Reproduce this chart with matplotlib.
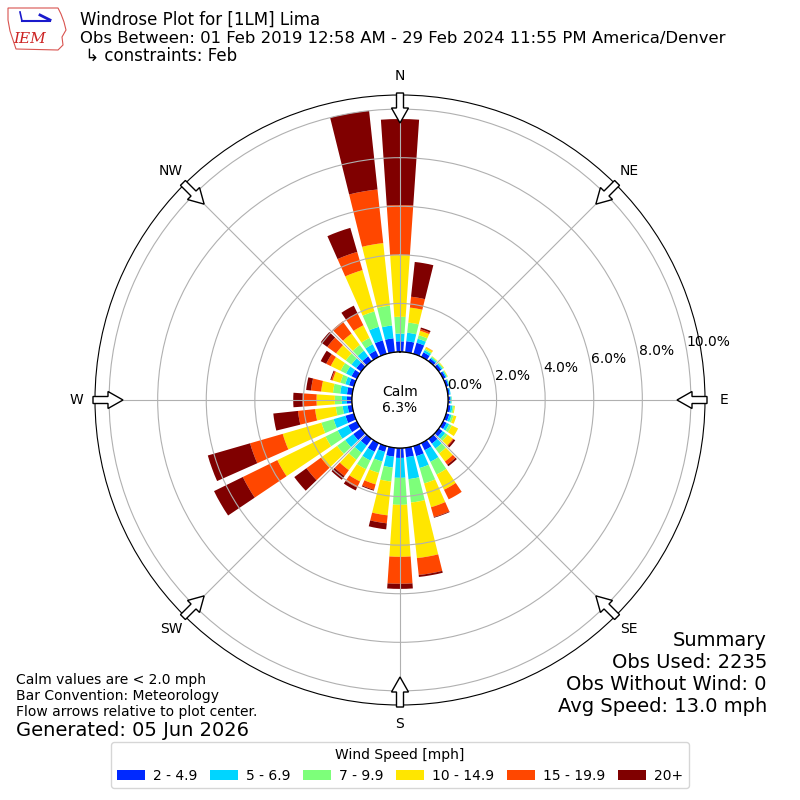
import numpy as np
import matplotlib
matplotlib.use("Agg")
import matplotlib.pyplot as plt
from matplotlib.patches import FancyArrow, Polygon

directions = np.arange(0, 360, 10)
speed_bins = ["2 - 4.9", "5 - 6.9", "7 - 9.9", "10 - 14.9", "15 - 19.9", "20+"]
compass = ["N", "NE", "E", "SE", "S", "SW", "W", "NW"]
rings = [0, 2, 4, 6, 8, 10]
calm_pct = 6.3

spd_2_5 = [0.44, 0.46, 0.48, 0.21, 0.14, 0.14, 0.12, 0.10, 0.08, 0.10, 0.12, 0.14,
           0.16, 0.19, 0.25, 0.33, 0.43, 0.39, 0.41, 0.37, 0.25, 0.40, 0.35, 0.41,
           0.40, 0.36, 0.19, 0.21, 0.22, 0.21, 0.25, 0.25, 0.25, 0.29, 0.58, 0.58]
spd_5_7 = [0.32, 0.35, 0.17, 0.10, 0.06, 0.06, 0.05, 0.04, 0.04, 0.04, 0.08, 0.10,
           0.12, 0.14, 0.25, 0.53, 0.51, 0.91, 0.82, 0.45, 0.41, 0.40, 0.36, 0.41,
           0.48, 0.51, 0.21, 0.21, 0.28, 0.16, 0.25, 0.25, 0.29, 0.29, 0.58, 0.53]
spd_7_10 = [0.69, 0.42, 0.15, 0.06, 0.04, 0.04, 0.03, 0.02, 0.00, 0.02, 0.06, 0.08,
            0.12, 0.12, 0.25, 0.58, 0.66, 0.97, 1.11, 0.58, 0.49, 0.40, 0.36, 0.41,
            0.56, 0.52, 0.28, 0.29, 0.30, 0.21, 0.25, 0.29, 0.29, 0.29, 0.66, 0.82]
spd_10_15 = [2.54, 0.62, 0.19, 0.08, 0.02, 0.03, 0.02, 0.00, 0.00, 0.00, 0.04, 0.12,
             0.29, 0.27, 0.41, 0.70, 1.02, 2.30, 2.14, 1.40, 0.49, 0.56, 0.53, 0.82,
             2.21, 1.66, 0.86, 0.75, 0.49, 0.33, 0.45, 0.49, 0.58, 0.58, 1.77, 2.59]
spd_15_20 = [2.06, 0.45, 0.07, 0.01, 0.00, 0.00, 0.00, 0.00, 0.00, 0.00, 0.00, 0.00,
             0.00, 0.04, 0.16, 0.44, 0.42, 0.70, 1.11, 0.33, 0.23, 0.28, 0.30, 0.74,
             1.58, 1.40, 0.71, 0.58, 0.42, 0.06, 0.21, 0.45, 0.62, 0.53, 0.78, 2.22]
spd_20p = [3.54, 1.44, 0.07, 0.00, 0.00, 0.00, 0.00, 0.00, 0.00, 0.00, 0.00, 0.00,
           0.00, 0.08, 0.08, 0.00, 0.03, 0.08, 0.21, 0.25, 0.04, 0.13, 0.19, 0.62,
           1.32, 1.81, 1.02, 0.38, 0.20, 0.04, 0.25, 0.33, 0.00, 0.37, 1.03, 3.26]

series = [spd_2_5, spd_5_7, spd_7_10, spd_10_15, spd_15_20, spd_20p]
colors = plt.cm.jet(np.arange(1, 7) / 6.0)

fig = plt.figure(figsize=(8, 8), dpi=100)
ax = fig.add_axes([95 / 800, 95 / 800, 610 / 800, 610 / 800], projection="polar")
ax.set_theta_zero_location("N")
ax.set_theta_direction(-1)

theta = np.deg2rad(directions)
bottom = np.zeros(len(directions))
for vals, color, label in zip(series, colors, speed_bins):
    vals = np.array(vals)
    ax.bar(theta, vals, width=np.deg2rad(7.8), bottom=bottom, color=color,
           label=label, linewidth=0)
    bottom += vals

ax.set_rorigin(-1.975)
ax.set_ylim(0, 10.58)
ax.set_yticks(rings)
ax.set_yticklabels([f"{r:.1f}%" for r in rings], fontsize=10)
ax.set_rlabel_position(80)
ax.set_xticks(np.deg2rad(np.arange(0, 360, 45)))
ax.set_xticklabels(compass, fontsize=10)
ax.tick_params(axis="x", pad=3)
ax.grid(True, color="#b0b0b0", lw=0.8)

# calm circle
tt = np.linspace(0, 2 * np.pi, 361)
ax.plot(tt, np.zeros_like(tt), color="black", lw=1)
ax.text(0.5, 0.5, f"Calm\n{calm_pct:.1f}%", transform=ax.transAxes,
        ha="center", va="center", fontsize=10)

# flow arrows at the compass points
for d in np.deg2rad(np.arange(0, 360, 45)):
    sx, sy = np.sin(d), np.cos(d)
    r0, r1 = 307 / 800, 277 / 800
    arr = FancyArrow(0.5 + r0 * sx, 0.5 + r0 * sy, (r1 - r0) * sx, (r1 - r0) * sy,
                     width=7 / 800, head_width=17 / 800, head_length=15 / 800,
                     length_includes_head=True, fc="white", ec="black", lw=1,
                     transform=fig.transFigure, zorder=5)
    fig.add_artist(arr)

# titles
fig.text(80 / 800, 1 - 20 / 800, "Windrose Plot for [1LM] Lima", fontsize=12, va="center")
fig.text(80 / 800, 1 - 38 / 800,
         "Obs Between: 01 Feb 2019 12:58 AM - 29 Feb 2024 11:55 PM America/Denver",
         fontsize=11.85, va="center")
fig.text(80 / 800, 1 - 56 / 800, " \u21b3 constraints: Feb", fontsize=12, va="center")

# rough IEM logo
iowa = [(8, 8), (58, 8), (61, 14), (64, 22), (66, 30), (62, 37), (63, 45), (58, 50),
        (16, 49), (13, 40), (10, 31), (8, 20)]
fig.add_artist(Polygon([(x / 800, 1 - y / 800) for x, y in iowa], closed=True,
                       fill=False, ec="#d9534f", lw=0.8, transform=fig.transFigure))
fig.add_artist(plt.Line2D([22 / 800, 50 / 800], [1 - 21 / 800, 1 - 21 / 800],
                          color="#1a1acc", lw=1.5, transform=fig.transFigure))
fig.add_artist(plt.Line2D([40 / 800, 50 / 800], [1 - 15 / 800, 1 - 20 / 800],
                          color="#1a1acc", lw=2, transform=fig.transFigure))
fig.add_artist(plt.Line2D([20 / 800, 22 / 800], [1 - 12 / 800, 1 - 21 / 800],
                          color="#1a1acc", lw=1.2, transform=fig.transFigure))
fig.text(30 / 800, 1 - 39 / 800, "IEM", color="#cc2222", fontsize=11,
         family="DejaVu Serif", style="italic", ha="center", va="center")

# notes
fig.text(16 / 800, 1 - 680 / 800, "Calm values are < 2.0 mph", fontsize=10, va="center")
fig.text(16 / 800, 1 - 696 / 800, "Bar Convention: Meteorology", fontsize=10, va="center")
fig.text(16 / 800, 1 - 712 / 800, "Flow arrows relative to plot center.", fontsize=10,
         va="center")
fig.text(16 / 800, 1 - 730 / 800, "Generated: 05 Jun 2026", fontsize=14, va="center")

summary = ["Summary", "Obs Used: 2235", "Obs Without Wind: 0", "Avg Speed: 13.0 mph"]
for i, line in enumerate(summary):
    fig.text(767 / 800, 1 - (640 + 22 * i) / 800, line, fontsize=14,
             ha="right", va="center")

handles, labels = ax.get_legend_handles_labels()
fig.legend(handles, labels, loc="lower center", bbox_to_anchor=(0.5, 0.006),
           ncol=6, title="Wind Speed [mph]", fontsize=10, title_fontsize=10,
           columnspacing=0.9, handletextpad=0.6, handlelength=2.0)

fig.savefig("out.png", dpi=100)
